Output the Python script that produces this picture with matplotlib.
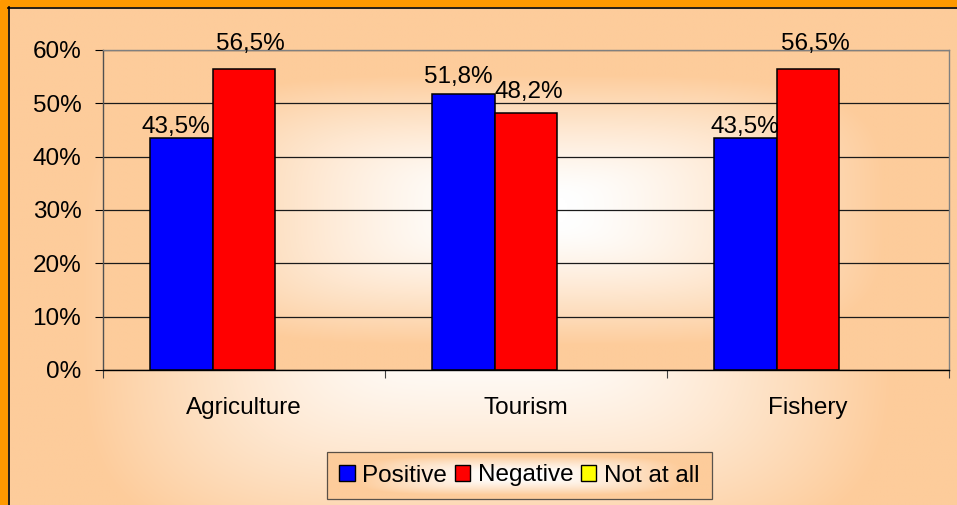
import numpy as np
import matplotlib
matplotlib.use('Agg')
import matplotlib.pyplot as plt
from matplotlib.patches import Rectangle, Patch
from matplotlib.ticker import FuncFormatter

plt.rcParams['font.family'] = ['Liberation Sans', 'DejaVu Sans']

# Data
categories = ['Agriculture', 'Tourism', 'Fishery']
series_names = ['Positive', 'Negative', 'Not at all']
positive = [43.5, 51.8, 43.5]
negative = [56.5, 48.2, 56.5]
not_at_all = [0.0, 0.0, 0.0]
y_ticks = [0, 10, 20, 30, 40, 50, 60]

colors = ['#0000FF', '#FF0000', '#FFFF00']
peach = np.array([253, 204, 155]) / 255.0
white = np.array([1.0, 1.0, 1.0])

# label nudges in pixels (dx, dy above bar top), per series / category
label_dx = [[-5, -5, 0], [6, 3, 7]]
label_dy = [[5, 11, 5], [19, 15, 19]]

FS = 17.5


def center_gradient(nx=400, ny=200, p=4):
    # "from center" gradient, white in the middle, peach at the edges
    u = np.linspace(-1, 1, nx)
    v = np.linspace(-1, 1, ny)
    U, V = np.meshgrid(u, v)
    t = (np.abs(U) ** p + np.abs(V) ** p) ** (1 / p)
    s = np.clip((t - 0.1) / 0.75, 0, 1) ** 1.3
    return white + (peach - white) * s[..., None]


W, H = 957, 505
fig = plt.figure(figsize=(W / 100, H / 100), dpi=100)

# background axes in pixel coordinates
bg = fig.add_axes([0, 0, 1, 1], zorder=-1)
bg.axis('off')
bg.add_patch(Rectangle((0, 0), W, H, color='#FF9900', zorder=0))
bg.imshow(center_gradient(), extent=(8, 966, 600, 7), aspect='auto',
          interpolation='bilinear', zorder=1)
bg.plot([8.5, 8.5], [7, H], color='black', lw=1.2, zorder=2)
bg.plot([8, W], [7.5, 7.5], color='black', lw=1.2, zorder=2)
bg.set_xlim(0, W)
bg.set_ylim(H, 0)

# plot area
ax = fig.add_axes([103 / W, 1 - 370 / H, 846 / W, 320 / H])
ax.set_facecolor('none')
ax.imshow(center_gradient(), extent=(-0.5, 2.5, 0, 60), aspect='auto',
          interpolation='bilinear', zorder=0)

x = np.arange(len(categories))
bw = 0.2234
for i, vals in enumerate([positive, negative, not_at_all]):
    xs = x + (i - 1) * bw
    lw = 1.1 if any(vals) else 0
    ax.bar(xs, vals, bw, color=colors[i], edgecolor='black', linewidth=lw, zorder=2)
    if i < 2:
        for j, v in enumerate(vals):
            ax.annotate(f'{v:.1f}'.replace('.', ',') + '%', (xs[j], v),
                        xytext=(label_dx[i][j], label_dy[i][j]),
                        textcoords='offset pixels', ha='center', va='baseline',
                        fontsize=FS, color='black', zorder=3)

ax.set_xlim(-0.5, 2.5)
ax.set_ylim(0, 60)
ax.set_yticks(y_ticks)
ax.yaxis.set_major_formatter(FuncFormatter(lambda v, p: f'{v:.0f}%'))
ax.set_xticks(x)
ax.set_xticklabels(categories)
ax.set_xticks([-0.5, 0.5, 1.5, 2.5], minor=True)

ax.set_axisbelow(True)
ax.yaxis.grid(True, color='#1a1a1a', lw=0.9)

ax.tick_params(axis='y', length=5.8, width=0.8, pad=9.8, labelsize=FS, colors='black')
ax.tick_params(axis='x', which='major', length=0, pad=19.5, labelsize=FS)
ax.tick_params(axis='x', which='minor', length=5.8, width=0.8, color='#404040')

for side in ['top', 'right']:
    ax.spines[side].set_color('#808080')
    ax.spines[side].set_linewidth(1.0)
ax.spines['left'].set_color('#505050')
ax.spines['left'].set_linewidth(1.0)
ax.spines['bottom'].set_color('black')
ax.spines['bottom'].set_linewidth(1.0)

# legend
handles = [Patch(facecolor=c, edgecolor='black', linewidth=1.0) for c in colors]
leg = fig.legend(handles, series_names, loc='center',
                 bbox_to_anchor=(519.5 / W, 1 - 475.5 / H), ncol=3,
                 frameon=True, fancybox=False, edgecolor='#303030', facecolor='none',
                 fontsize=FS, handlelength=0.62, handleheight=0.62,
                 handletextpad=0.32, columnspacing=0.32, borderpad=0.5,
                 borderaxespad=0)
leg.get_frame().set_linewidth(0.9)

# gradient behind the legend
fig.canvas.draw()
bb = leg.get_window_extent()
bg.imshow(center_gradient(200, 40), extent=(bb.x0, bb.x1, H - bb.y0, H - bb.y1),
          aspect='auto', interpolation='bilinear', zorder=3)
bg.set_xlim(0, W)
bg.set_ylim(H, 0)

fig.savefig('out.png', dpi=100)
